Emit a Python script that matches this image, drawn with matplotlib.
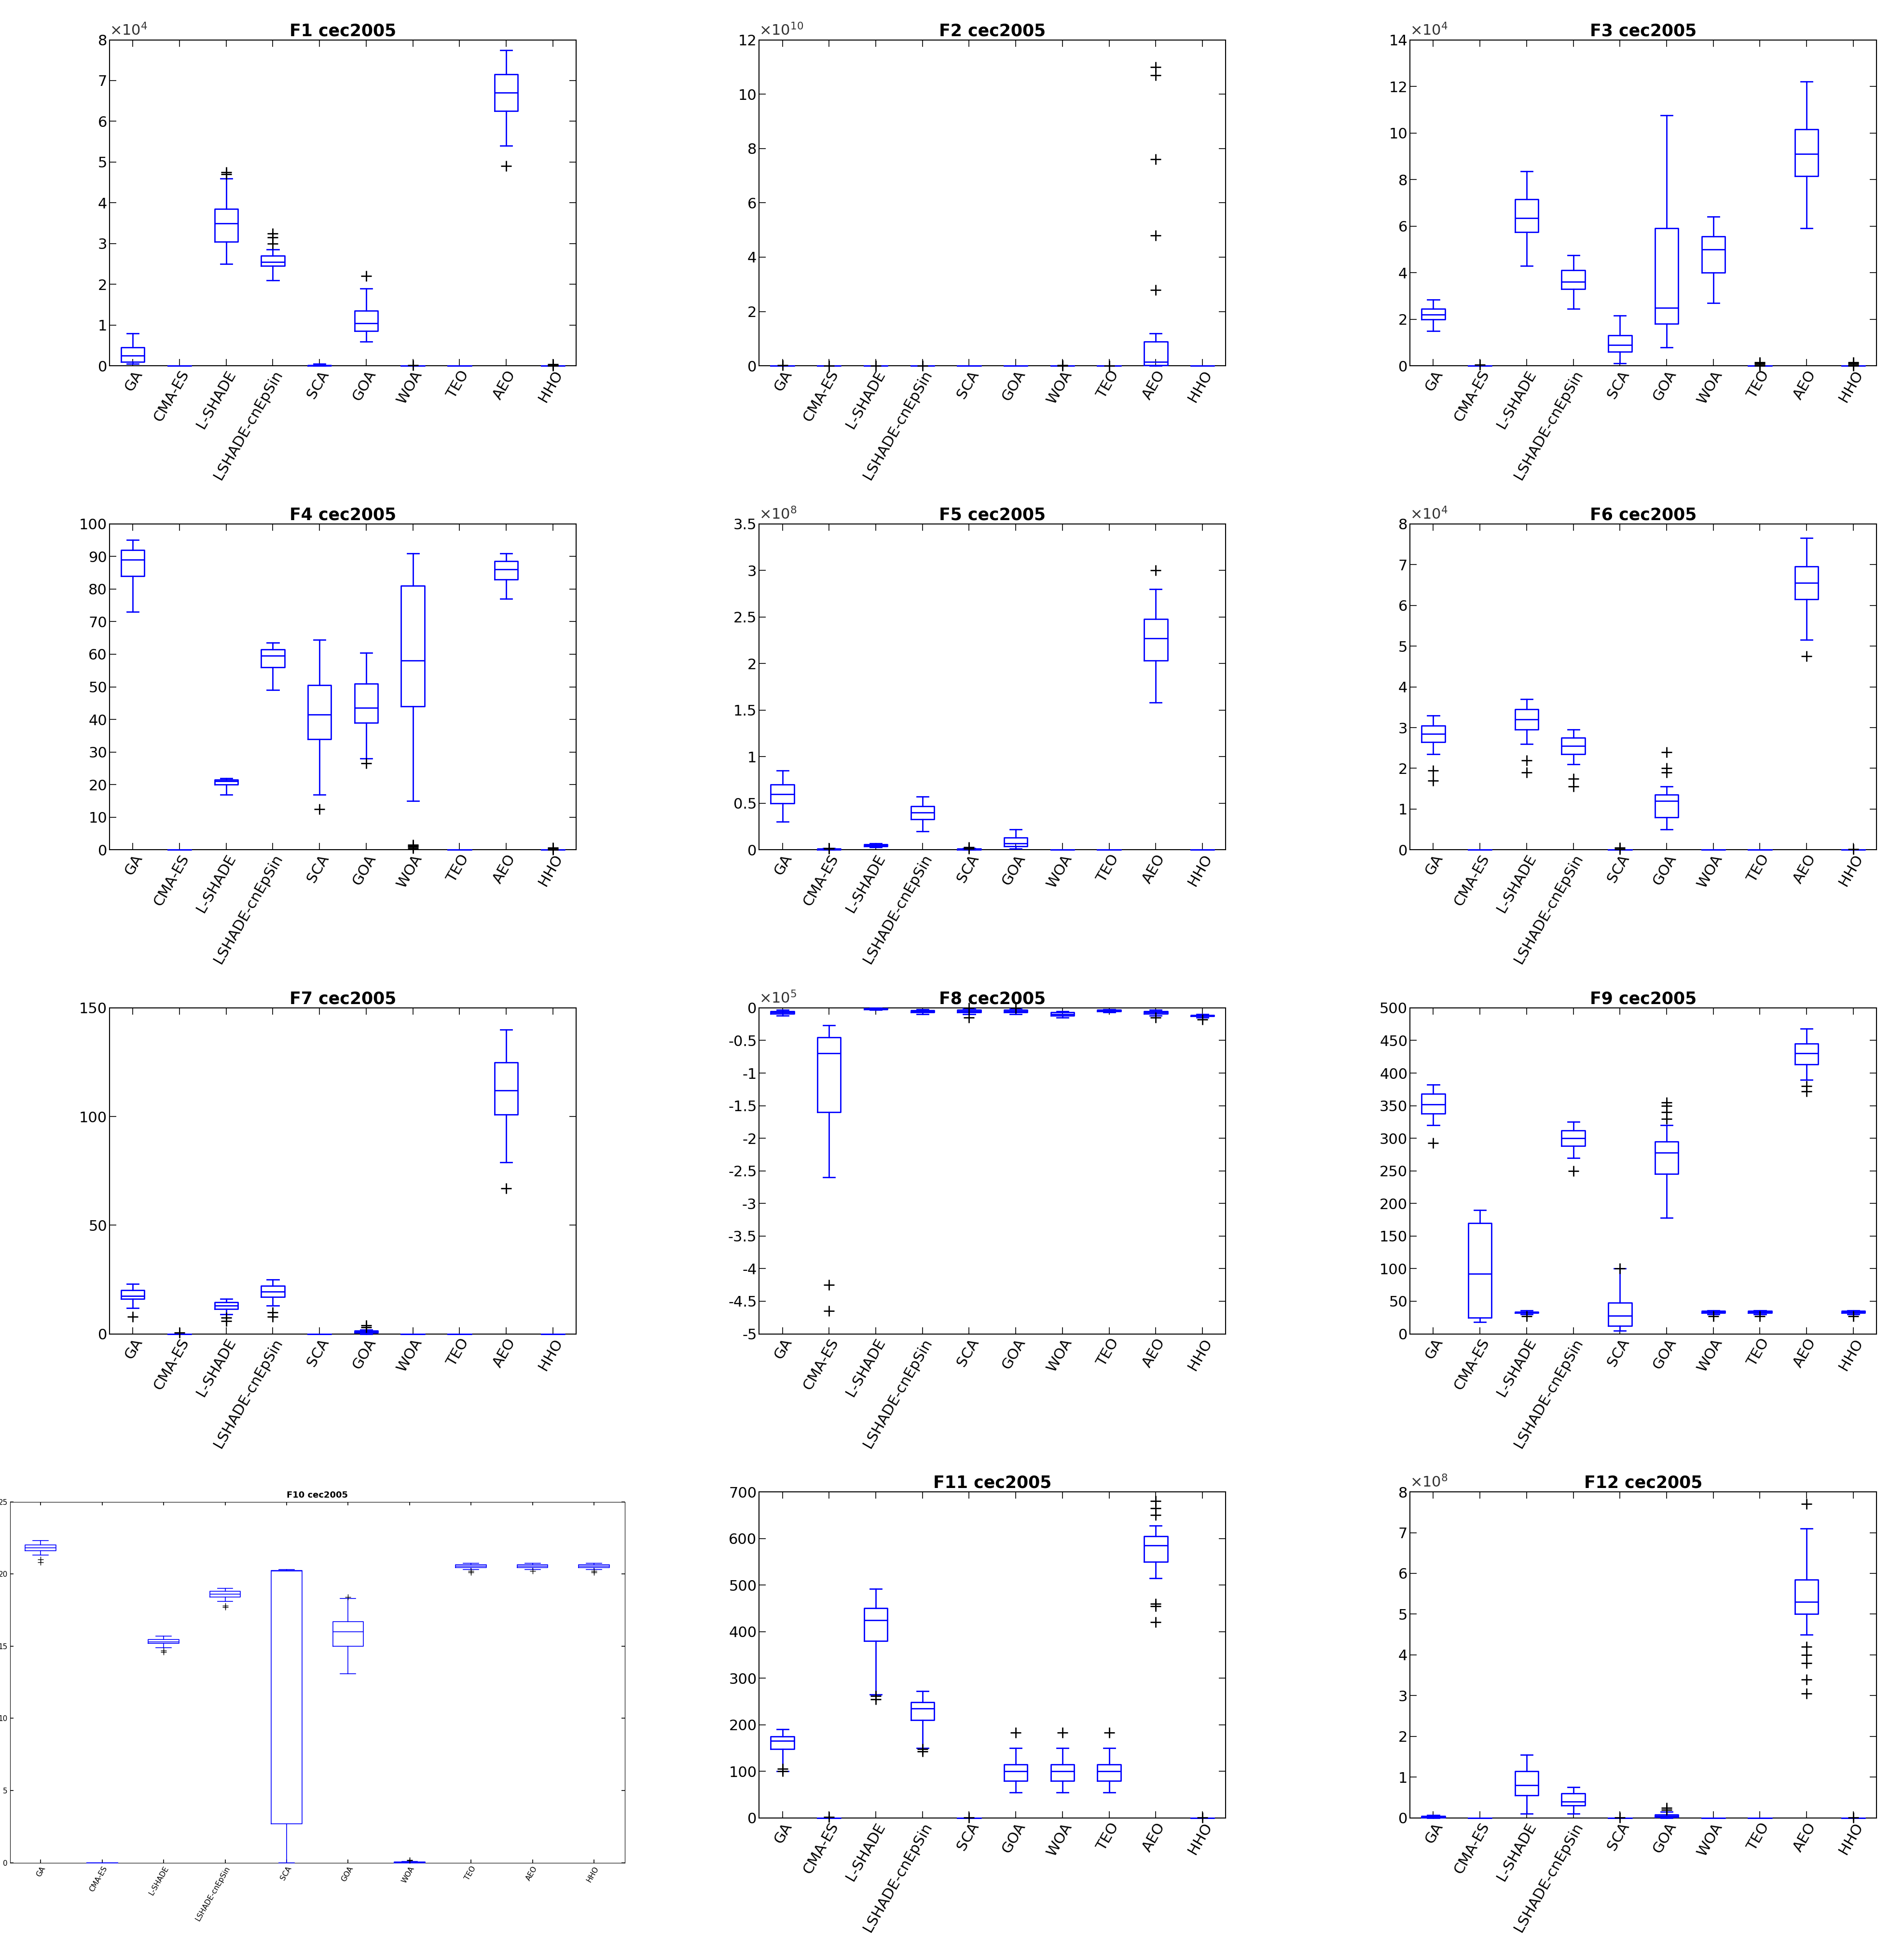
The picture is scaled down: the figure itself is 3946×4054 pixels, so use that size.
import matplotlib
matplotlib.use("Agg")
import matplotlib.pyplot as plt
from matplotlib.ticker import FuncFormatter
import numpy as np

methods = ["GA", "CMA-ES", "L-SHADE", "LSHADE-cnEpSin", "SCA", "GOA", "WOA", "TEO", "AEO", "HHO"]
Z = [0, 0, 0, 0, 0]

# each entry: [whislo, q1, median, q3, whishi], fliers  (values in units of scale)
F1 = [[0.05,0.1,0.25,0.45,0.8], Z, [2.5,3.05,3.5,3.85,4.6], [2.1,2.45,2.55,2.7,2.85], [0,0,0.01,0.02,0.05],
      [0.6,0.85,1.05,1.35,1.9], Z, Z, [5.4,6.25,6.7,7.15,7.75], Z]
F1f = [[], [], [4.7,4.75], [3.0,3.15,3.25], [], [2.2], [0.01], [], [4.9], [0,0.02,0.04]]
F2 = [Z]*8 + [[0,0.02,0.15,0.9,1.2], Z]
F2f = [[0.02],[0.01],[0.01],[0.01],[],[],[0.01,0.02],[0.01],[2.8,4.8,7.6,10.7,11.0],[]]
F3 = [[1.5,2.0,2.2,2.45,2.85], Z, [4.3,5.75,6.35,7.15,8.35], [2.45,3.3,3.6,4.1,4.75], [0.1,0.6,0.9,1.3,2.15],
      [0.8,1.8,2.5,5.9,10.75], [2.7,4.0,5.0,5.55,6.4], Z, [5.9,8.15,9.1,10.15,12.2], Z]
F3f = [[], [0.05], [], [], [], [], [], [0,0.05,0.1,0.15], [], [0,0.05,0.1,0.15]]
F4 = [[73,84,89,92,95], Z, [17,20,21,21.5,22], [49,56,59.5,61.5,63.5], [17,34,41.5,50.5,64.5],
      [28,39,43.5,51,60.5], [15,44,58,81,91], Z, [77,83,86,88.5,91], Z]
F4f = [[], [], [], [], [12.5], [26.5], [0.5,1.0,1.2,1.5], [], [], [0,0.3,0.6]]
F5 = [[0.3,0.5,0.6,0.7,0.85], [0,0,0.005,0.01,0.015], [0.03,0.04,0.05,0.06,0.07], [0.2,0.33,0.4,0.47,0.57],
      [0,0,0.005,0.01,0.02], [0.01,0.04,0.07,0.13,0.22], Z, Z, [1.58,2.03,2.27,2.48,2.8], Z]
F5f = [[], [0.01,0.02], [], [], [0.01,0.03], [], [], [], [3.0], []]
F6 = [[2.35,2.65,2.85,3.05,3.3], Z, [2.6,2.95,3.2,3.45,3.7], [2.1,2.35,2.55,2.75,2.95], Z,
      [0.5,0.8,1.2,1.35,1.55], Z, Z, [5.15,6.15,6.55,6.95,7.65], Z]
F6f = [[1.7,1.95], [], [1.9,2.2], [1.55,1.75], [0.02,0.05], [1.9,2.0,2.4], [], [], [4.75], [0.02]]
F7 = [[12,16,17.5,20,23], Z, [9,11.5,13,14.5,16], [13,17,19.5,22,25], Z,
      [0,0.5,1,1.5,2], Z, Z, [79,101,112,125,140], Z]
F7f = [[8], [0.5], [6,7.5], [8,10], [], [3,4], [], [], [67], []]
F8 = [[-0.12,-0.09,-0.07,-0.05,-0.03], [-2.6,-1.6,-0.7,-0.45,-0.27], [-0.03,-0.02,-0.015,-0.01,0],
      [-0.1,-0.07,-0.05,-0.04,-0.02], [-0.1,-0.07,-0.05,-0.03,-0.01], [-0.1,-0.07,-0.05,-0.03,-0.01],
      [-0.15,-0.12,-0.1,-0.07,-0.05], [-0.07,-0.05,-0.04,-0.03,-0.02], [-0.12,-0.09,-0.07,-0.05,-0.03],
      [-0.15,-0.13,-0.12,-0.11,-0.1]]
F8f = [[], [-4.25,-4.65], [], [], [0.0,-0.15], [0.0], [], [], [-0.15], [-0.18]]
F9 = [[320,338,352,368,382], [18,25,92,170,190], [30,32,33,34,36], [270,288,300,312,325], [5,12,28,48,100],
      [178,245,278,295,320], [30,32,34,35,36], [30,32,34,35,36], [390,413,430,445,468], [30,32,34,35,36]]
F9f = [[293], [], [27], [250], [100], [330,340,350,355], [27], [27], [372,380], [27]]
F10 = [[21.3,21.6,21.8,22.0,22.3], Z, [14.9,15.2,15.3,15.45,15.7], [18.1,18.4,18.6,18.8,19.0], [0,2.7,20.2,20.25,20.3],
       [13.1,15.0,16.0,16.7,18.3], [0,0,0.01,0.05,0.1], [20.3,20.45,20.55,20.65,20.75],
       [20.3,20.45,20.55,20.65,20.75], [20.3,20.45,20.55,20.65,20.75]]
F10f = [[20.8,21.0], [], [14.6,14.7], [17.7,17.8], [], [18.4], [0.15,0.2], [20.1,20.2], [20.2], [20.1,20.2]]
F11 = [[100,148,165,175,190], Z, [265,380,425,450,492], [150,210,235,248,272], Z,
       [55,80,100,115,150], [55,80,100,115,150], [55,80,100,115,150], [515,550,585,605,628], Z]
F11f = [[100,105], [2], [255,262], [143,148], [1], [183], [183], [183], [420,455,460,650,665,680], [1]]
F12 = [[0,0.01,0.02,0.04,0.07], Z, [0.1,0.55,0.8,1.15,1.55], [0.1,0.3,0.4,0.6,0.75], Z,
       [0,0.02,0.05,0.08,0.15], Z, Z, [4.5,5.0,5.3,5.85,7.1], Z]
F12f = [[], [], [], [], [0.01], [0.2,0.25], [], [], [3.05,3.4,3.8,4.0,4.2,7.7], [0.01]]

# name, stats, fliers, exponent, ylim, tick step
panels = [
    ("F1", F1, F1f, 4, (0, 8), 1),
    ("F2", F2, F2f, 10, (0, 12), 2),
    ("F3", F3, F3f, 4, (0, 14), 2),
    ("F4", F4, F4f, 0, (0, 100), 10),
    ("F5", F5, F5f, 8, (0, 3.5), 0.5),
    ("F6", F6, F6f, 4, (0, 8), 1),
    ("F7", F7, F7f, 0, (0, 150), 50),
    ("F8", F8, F8f, 5, (-5, 0), 0.5),
    ("F9", F9, F9f, 0, (0, 500), 50),
    ("F10", F10, F10f, 0, (0, 25), 5),
    ("F11", F11, F11f, 0, (0, 700), 100),
    ("F12", F12, F12f, 8, (0, 8), 1),
]

W, H = 1530.0, 1572.0
lefts = [88, 610, 1133]
bottoms = [294, 683, 1072, 1461]

fig = plt.figure(figsize=(39.46, 40.54), dpi=100)
blue = "#0000ff"
for i, (name, st, fl, ex, yl, step) in enumerate(panels):
    sc = 10.0 ** ex
    r, c = divmod(i, 3)
    small = name == "F10"
    if small:
        ax = fig.add_axes([8 / W, 1 - 1497 / H, 494 / W, 290 / H])
        fs, tfs, lw = 11, 13, 1.2
    else:
        ax = fig.add_axes([lefts[c] / W, 1 - bottoms[r] / H, 375 / W, 262 / H])
        fs, tfs, lw = 22, 25, 2.0
    stats = []
    for s, f in zip(st, fl):
        stats.append(dict(whislo=s[0] * sc, q1=s[1] * sc, med=s[2] * sc, q3=s[3] * sc,
                          whishi=s[4] * sc, fliers=[v * sc for v in f]))
    arts = ax.bxp(stats, positions=range(1, 11), widths=0.5, showfliers=True,
                  boxprops=dict(color=blue, lw=lw), medianprops=dict(color=blue, lw=lw),
                  whiskerprops=dict(color=blue, lw=lw), capprops=dict(color=blue, lw=lw),
                  flierprops=dict(marker="+", markeredgecolor="black", markersize=16 if not small else 8,
                                  markeredgewidth=2 if not small else 1, linestyle="none"))
    for k, v in arts.items():
        for a in v:
            a.set_zorder(3)
            a.set_clip_on(False)
    ax.set_xlim(0.5, 10.5)
    ax.set_ylim(yl[0] * sc, yl[1] * sc)
    ax.set_yticks(np.arange(yl[0], yl[1] + step / 2, step) * sc)
    ax.yaxis.set_major_formatter(FuncFormatter(lambda v, p, sc=sc: "%g" % round(v / sc, 6)))
    if ex:
        ax.text(0.0, 1.005, r"$\times10^{%d}$" % ex, transform=ax.transAxes,
                fontsize=fs, ha="left", va="bottom", color="#333333")
    ax.set_xticks(range(1, 11))
    ax.set_xticklabels(methods, rotation=60, ha="right", rotation_mode="anchor", fontsize=fs)
    ax.tick_params(axis="y", labelsize=fs)
    ax.tick_params(direction="in", top=True, right=True, length=10 if not small else 5, width=1.2)
    for sp in ax.spines.values():
        sp.set_linewidth(1.5 if not small else 0.8)
    ax.set_title(f"{name} cec2005", fontsize=tfs, fontweight="bold")

fig.savefig("out.png", dpi=100)
